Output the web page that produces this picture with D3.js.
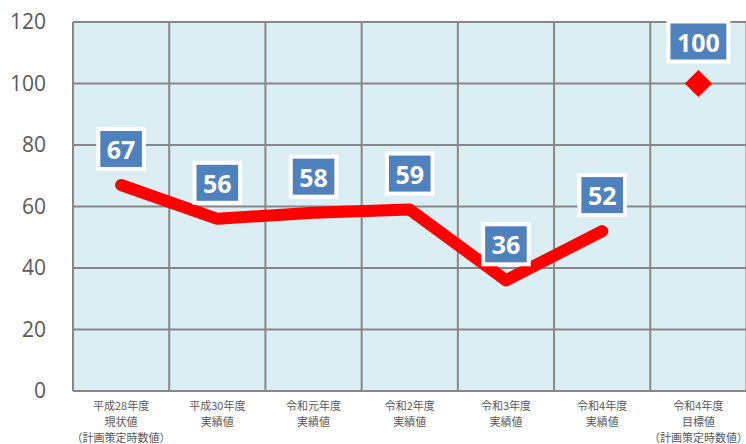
<!DOCTYPE html>
<html><head><meta charset="utf-8">
<script src="https://cdn.jsdelivr.net/npm/d3@7"></script>
<style>body{margin:0;background:#fff}svg{display:block}</style>
</head><body><svg id="c" width="746" height="444"></svg>
<script>
const categories = [
  ["平成28年度","現状値","(計画策定時数値)"],
  ["平成30年度","実績値"],
  ["令和元年度","実績値"],
  ["令和2年度","実績値"],
  ["令和3年度","実績値"],
  ["令和4年度","実績値"],
  ["令和4年度","目標値","(計画策定時数値)"]
];
const actualValues = [67, 56, 58, 59, 36, 52];
const targetValue = 100;
const yTicks = [0, 20, 40, 60, 80, 100, 120];

const svg = d3.select("#c");
const L = 73, R = 746.5, T = 22, B = 391;
const x = d3.scaleBand().domain(d3.range(categories.length)).range([L, R]);
const y = d3.scaleLinear().domain([0, 120]).range([B, T]);
const cx = i => x(i) + x.bandwidth() / 2;

svg.append("rect").attr("x", L).attr("y", T).attr("width", R - L).attr("height", B - T).attr("fill", "#DBEEF3");

// horizontal grid
svg.append("g").selectAll("line").data(yTicks).join("line")
  .attr("x1", L).attr("x2", R).attr("y1", d => y(d)).attr("y2", d => y(d))
  .attr("stroke", "#878787").attr("stroke-width", 2);
// vertical grid
svg.append("g").selectAll("line").data(d3.range(categories.length + 1)).join("line")
  .attr("x1", i => L + i * x.bandwidth()).attr("x2", i => L + i * x.bandwidth())
  .attr("y1", T).attr("y2", B)
  .attr("stroke", "#878787").attr("stroke-width", 2);

// y axis labels
const yAxis = d3.axisLeft(y).tickValues(yTicks).tickSize(0).tickPadding(0);
const ga = svg.append("g").attr("transform", `translate(46,0)`).call(yAxis);
ga.select(".domain").remove();
ga.selectAll("text").attr("font-family", "'Open Sans', sans-serif").attr("font-size", 21).attr("fill", "#595959");

// x labels
const xl = svg.append("g");
categories.forEach((lines, i) => {
  const t = xl.append("text").attr("x", cx(i)).attr("text-anchor", "middle")
    .attr("font-family", "'Noto Sans CJK JP', sans-serif").attr("font-size", 11).attr("fill", "#595959");
  lines.forEach((s, k) => {
    t.append("tspan").attr("x", cx(i)).attr("y", 410 + k * 16).text(s.replace("(", "（").replace(")", "）"));
  });
});

// line
const line = d3.line().x((d, i) => cx(i)).y(d => y(d));
svg.append("path").datum(actualValues).attr("d", line)
  .attr("fill", "none").attr("stroke", "#FF0000").attr("stroke-width", 12)
  .attr("stroke-linejoin", "round").attr("stroke-linecap", "round");

// diamond target
const ti = categories.length - 1;
svg.append("path").attr("d", d3.symbol().type(d3.symbolSquare).size(370)())
  .attr("transform", `translate(${cx(ti)},${y(targetValue)}) rotate(45)`).attr("fill", "#FF0000");

// labels
function label(xc, yc, v) {
  const g = svg.append("g");
  const t = g.append("text").attr("x", xc).attr("y", yc).attr("text-anchor", "middle")
    .attr("dominant-baseline", "central")
    .attr("font-family", "'Open Sans', sans-serif").attr("font-weight", "bold").attr("font-size", 25)
    .attr("fill", "#fff").text(v);
  const w = t.node().getComputedTextLength();
  g.insert("rect", "text").attr("x", xc - w / 2 - 8.5).attr("y", yc - 20).attr("width", w + 17).attr("height", 40)
    .attr("fill", "#4F81BD").attr("stroke", "#fff").attr("stroke-width", 4);
}
actualValues.forEach((v, i) => label(cx(i), y(v) - 36, v));
label(cx(ti), y(targetValue) - 42, targetValue);
</script></body></html>
